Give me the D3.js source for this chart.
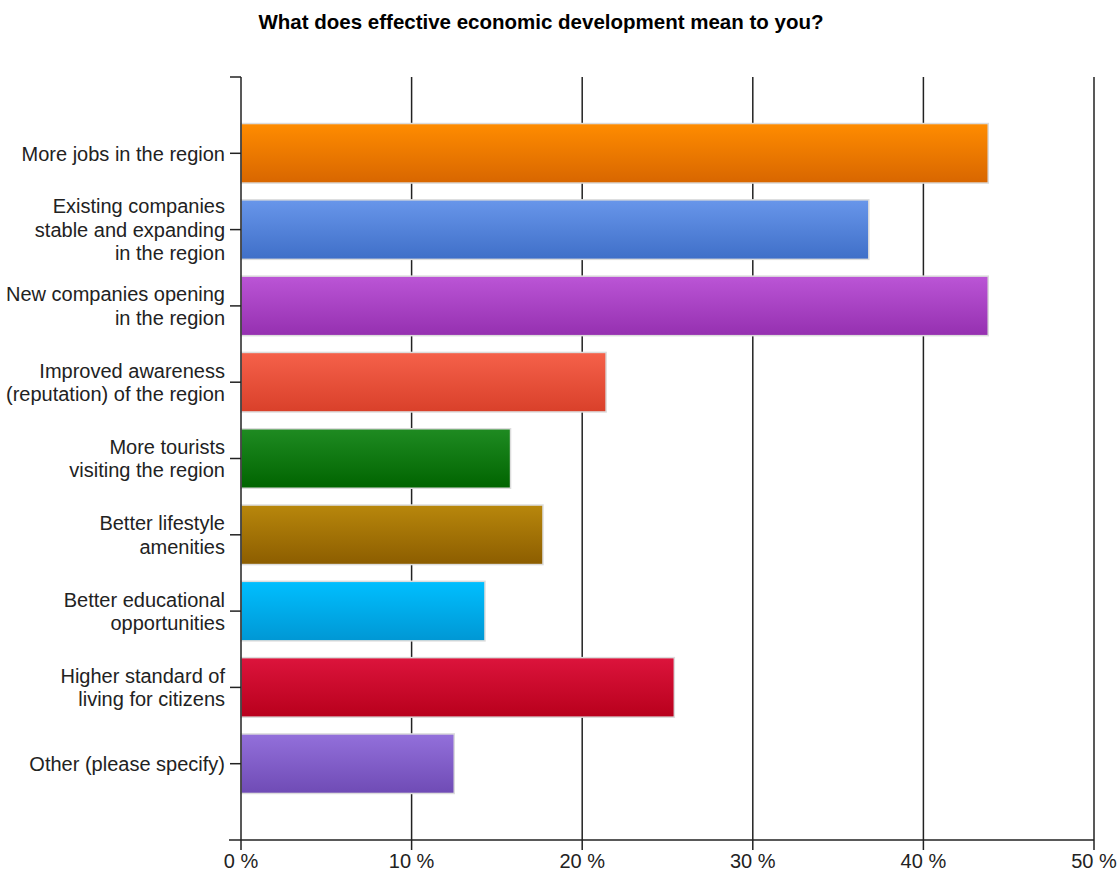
<!DOCTYPE html>
<html>
<head>
<meta charset="utf-8">
<script src="https://cdn.jsdelivr.net/npm/d3@7"></script>
<style>
  html, body { margin: 0; padding: 0; background: #fff; }
  svg { display: block; }
  text { font-family: "Liberation Sans", Arial, sans-serif; }
</style>
</head>
<body>
<svg id="chart" width="1118" height="873"></svg>
<script>
// Survey responses (percent of respondents)
const categories = [
  "More jobs in the region",
  "Existing companies\nstable and expanding\nin the region",
  "New companies opening\nin the region",
  "Improved awareness\n(reputation) of the region",
  "More tourists\nvisiting the region",
  "Better lifestyle\namenities",
  "Better educational\nopportunities",
  "Higher standard of\nliving for citizens",
  "Other (please specify)"
];
const values = [43.8, 36.8, 43.8, 21.4, 15.8, 17.7, 14.3, 25.4, 12.5];
const barTop    = ["#ff8c00", "#6896ea", "#bb55d6", "#f5614a", "#1f8b22", "#b8870c", "#00bfff", "#dc143c", "#9370db"];
const barBottom = ["#d86600", "#3f6fc8", "#9530b0", "#d9402a", "#006400", "#8c5d00", "#0097d4", "#b8001c", "#6f4bb5"];
const xTicks = [0, 10, 20, 30, 40, 50];
const title = "What does effective economic development mean to you?";

const svg = d3.select("#chart");
const plot = { left: 241, right: 1094, top: 77, bottom: 840 };

const x = d3.scaleLinear().domain([0, 50]).range([plot.left, plot.right]);
const y = d3.scalePoint().domain(categories).range([plot.top, plot.bottom]).padding(1);
const barH = y.step() * 0.78;

// Gradients for bars
const defs = svg.append("defs");
categories.forEach((c, i) => {
  const g = defs.append("linearGradient")
    .attr("id", "grad" + i).attr("x1", 0).attr("y1", 0).attr("x2", 0).attr("y2", 1);
  g.append("stop").attr("offset", "0%").attr("stop-color", barTop[i]);
  g.append("stop").attr("offset", "100%").attr("stop-color", barBottom[i]);
});

// Title
svg.append("text")
  .attr("x", 541).attr("y", 29)
  .attr("text-anchor", "middle")
  .attr("font-weight", "bold")
  .attr("font-size", 20.5)
  .attr("fill", "#000")
  .text(title);

// Vertical gridlines with ticks extending below the axis
const grid = svg.append("g");
grid.selectAll("line")
  .data(xTicks.slice(1))
  .join("line")
  .attr("x1", d => x(d)).attr("x2", d => x(d))
  .attr("y1", plot.top).attr("y2", plot.bottom + 10)
  .attr("stroke", "#222").attr("stroke-width", 1.5);

// Bars
svg.append("g").selectAll("rect")
  .data(categories)
  .join("rect")
  .attr("x", x(0))
  .attr("y", d => y(d) - barH / 2)
  .attr("width", (d, i) => x(values[i]) - x(0))
  .attr("height", barH)
  .attr("fill", (d, i) => `url(#grad${i})`)
  .attr("stroke", "#dcdcdc")
  .attr("stroke-width", 1.5);

// X axis
const xAxis = svg.append("g").attr("transform", `translate(0,${plot.bottom})`);
xAxis.append("line")
  .attr("x1", plot.left - 12).attr("x2", plot.right)
  .attr("stroke", "#222").attr("stroke-width", 1.5);
xAxis.selectAll("text")
  .data(xTicks)
  .join("text")
  .attr("x", d => x(d))
  .attr("y", 28)
  .attr("text-anchor", "middle")
  .attr("font-size", 20)
  .attr("fill", "#222")
  .text(d => d + " %");

// Y axis
const yAxis = svg.append("g");
yAxis.append("line")
  .attr("x1", plot.left).attr("x2", plot.left)
  .attr("y1", plot.top).attr("y2", plot.bottom + 10)
  .attr("stroke", "#222").attr("stroke-width", 1.5);
yAxis.append("line")
  .attr("x1", plot.left - 11).attr("x2", plot.left)
  .attr("y1", plot.top).attr("y2", plot.top)
  .attr("stroke", "#222").attr("stroke-width", 1.5);
yAxis.selectAll("line.tick")
  .data(categories)
  .join("line")
  .attr("class", "tick")
  .attr("x1", plot.left - 11).attr("x2", plot.left)
  .attr("y1", d => y(d)).attr("y2", d => y(d))
  .attr("stroke", "#222").attr("stroke-width", 1.5);

const lineH = 23.5;
yAxis.selectAll("text.cat")
  .data(categories)
  .join("text")
  .attr("class", "cat")
  .attr("text-anchor", "end")
  .attr("font-size", 20)
  .attr("fill", "#222")
  .each(function(d) {
    const lines = d.split("\n");
    const t = d3.select(this);
    const y0 = y(d) - (lines.length - 1) * lineH / 2;
    lines.forEach((ln, k) => {
      t.append("tspan")
        .attr("x", plot.left - 16)
        .attr("y", y0 + k * lineH)
        .attr("dy", "0.36em")
        .text(ln);
    });
  });
</script>
</body>
</html>
